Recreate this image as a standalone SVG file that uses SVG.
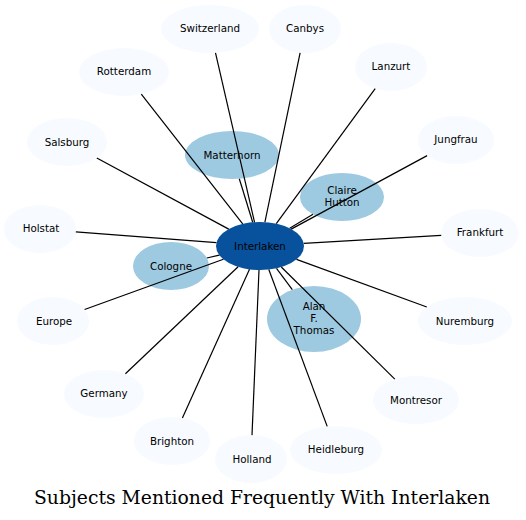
<svg xmlns="http://www.w3.org/2000/svg" width="526" height="520" viewBox="0 0 526 520">
<style>
.outer{fill:#f7fbff;stroke:none}
.mid{fill:#9ecae1;stroke:none}
.hub{fill:#08519c;stroke:none}
text{font-family:"DejaVu Sans","Liberation Sans",sans-serif;font-size:10.3px;fill:#000;text-anchor:middle}
.title{font-family:"DejaVu Serif","Liberation Serif",serif;font-size:18px}
#edges line{stroke:#000;stroke-width:1.2}
</style>
<rect width="526" height="520" fill="#fff"/>
<g id="node-interlaken"><ellipse class="hub" cx="260" cy="246" rx="44" ry="24"/><text x="260" y="250">Interlaken</text></g>
<g id="node-matterhorn"><ellipse class="mid" cx="232" cy="155" rx="47" ry="24"/><text x="232" y="159">Matterhorn</text></g>
<g id="node-claire"><ellipse class="mid" cx="342" cy="197" rx="42" ry="24"/><text x="342" y="194">Claire</text><text x="342" y="206">Hutton</text></g>
<g id="node-cologne"><ellipse class="mid" cx="171" cy="266" rx="38" ry="24"/><text x="171" y="270">Cologne</text></g>
<g id="node-alan"><ellipse class="mid" cx="314" cy="319" rx="47" ry="33"/><text x="314" y="310">Alan</text><text x="314" y="322">F.</text><text x="314" y="334">Thomas</text></g>
<g id="node-switzerland"><ellipse class="outer" cx="210" cy="29" rx="49" ry="24"/><text x="210" y="32">Switzerland</text></g>
<g id="node-canbys"><ellipse class="outer" cx="305" cy="29" rx="36" ry="24"/><text x="305" y="32">Canbys</text></g>
<g id="node-rotterdam"><ellipse class="outer" cx="124" cy="72" rx="45" ry="24"/><text x="124" y="75">Rotterdam</text></g>
<g id="node-lanzurt"><ellipse class="outer" cx="391" cy="67" rx="36" ry="24"/><text x="391" y="70">Lanzurt</text></g>
<g id="node-jungfrau"><ellipse class="outer" cx="456" cy="140" rx="38" ry="24"/><text x="456" y="143">Jungfrau</text></g>
<g id="node-salsburg"><ellipse class="outer" cx="67" cy="142" rx="40" ry="24"/><text x="67" y="146">Salsburg</text></g>
<g id="node-holstat"><ellipse class="outer" cx="40" cy="229" rx="36" ry="24"/><text x="41" y="232">Holstat</text></g>
<g id="node-frankfurt"><ellipse class="outer" cx="480" cy="233" rx="39" ry="24"/><text x="480" y="236">Frankfurt</text></g>
<g id="node-europe"><ellipse class="outer" cx="53" cy="321" rx="36" ry="24"/><text x="54" y="325">Europe</text></g>
<g id="node-nuremburg"><ellipse class="outer" cx="465" cy="321" rx="47" ry="24"/><text x="465" y="325">Nuremburg</text></g>
<g id="node-germany"><ellipse class="outer" cx="104" cy="394" rx="40" ry="24"/><text x="104" y="397">Germany</text></g>
<g id="node-montresor"><ellipse class="outer" cx="416" cy="400" rx="43" ry="24"/><text x="416" y="404">Montresor</text></g>
<g id="node-brighton"><ellipse class="outer" cx="172" cy="441" rx="38" ry="24"/><text x="172" y="445">Brighton</text></g>
<g id="node-holland"><ellipse class="outer" cx="251" cy="459" rx="36" ry="24"/><text x="252" y="463">Holland</text></g>
<g id="node-heidleburg"><ellipse class="outer" cx="336" cy="450" rx="46" ry="24"/><text x="336" y="453">Heidleburg</text></g>
<g id="edges">
<line x1="215.5" y1="52.8" x2="254.5" y2="222.2"/>
<line x1="300.1" y1="52.8" x2="264.9" y2="222.2"/>
<line x1="141.3" y1="94.2" x2="242.7" y2="223.9"/>
<line x1="375.2" y1="88.6" x2="276.3" y2="223.7"/>
<line x1="427.1" y1="155.6" x2="291.2" y2="229.1"/>
<line x1="96.8" y1="158" x2="228.7" y2="229.1"/>
<line x1="75.8" y1="231.8" x2="216.4" y2="242.6"/>
<line x1="441.2" y1="235.3" x2="303.7" y2="243.4"/>
<line x1="84.6" y1="309.5" x2="223.4" y2="259.3"/>
<line x1="426.8" y1="307" x2="296.5" y2="259.4"/>
<line x1="125.4" y1="373.7" x2="238.1" y2="266.8"/>
<line x1="394.8" y1="379.1" x2="281.3" y2="267"/>
<line x1="182.4" y1="417.9" x2="249.5" y2="269.3"/>
<line x1="252" y1="435.1" x2="259" y2="270"/>
<line x1="327.2" y1="426.4" x2="268.8" y2="269.5"/>
<line x1="239.3" y1="178.7" x2="252.7" y2="222.3"/>
<line x1="313" y1="214.3" x2="289.7" y2="228.3"/>
<line x1="206.8" y1="258" x2="219.3" y2="255.1"/>
<line x1="292.3" y1="289.7" x2="276.5" y2="268.3"/>
</g>
<text class="title" x="262" y="504" textLength="456" lengthAdjust="spacingAndGlyphs">Subjects Mentioned Frequently With Interlaken</text>
</svg>
